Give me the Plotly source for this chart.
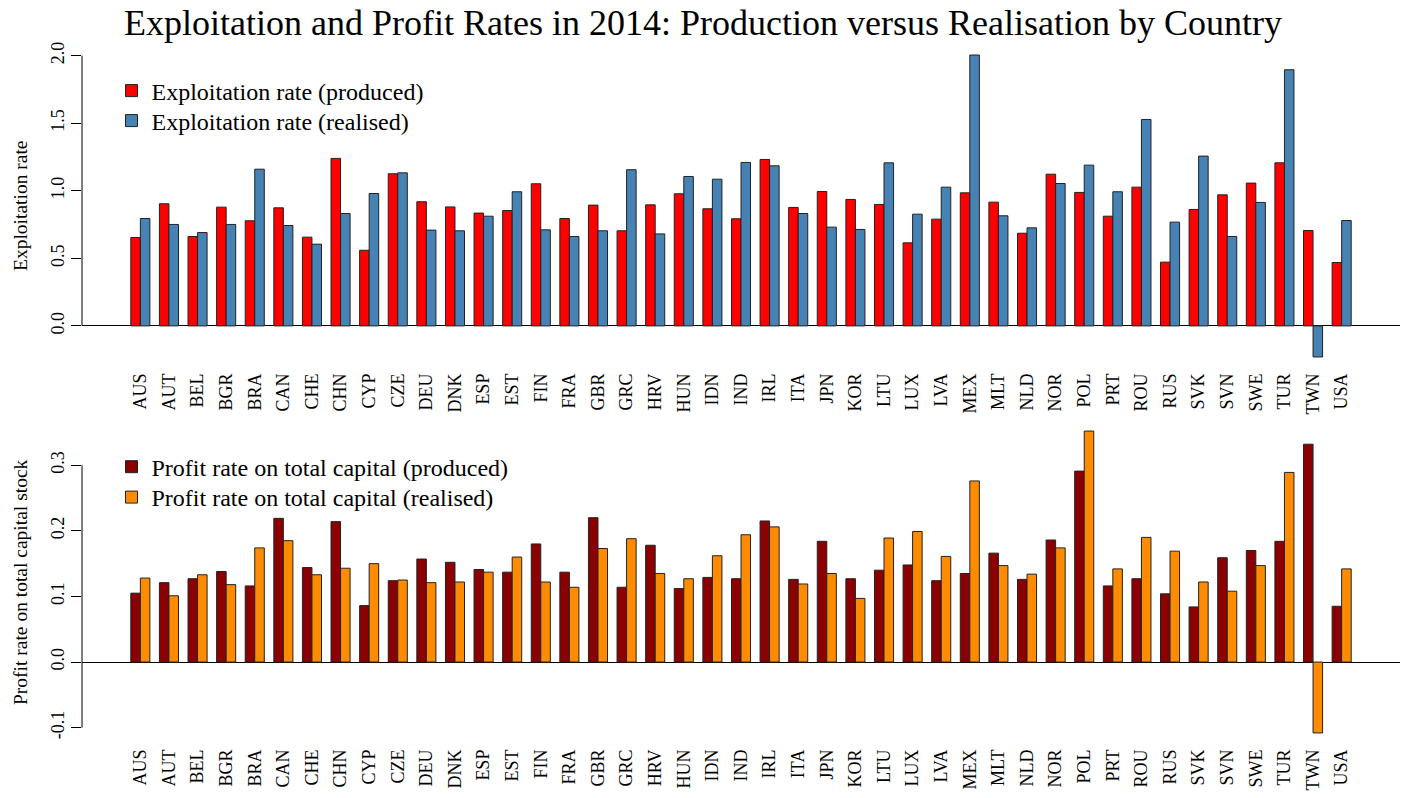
import plotly.graph_objects as go

countries = ["AUS","AUT","BEL","BGR","BRA","CAN","CHE","CHN","CYP","CZE","DEU","DNK","ESP","EST",
             "FIN","FRA","GBR","GRC","HRV","HUN","IDN","IND","IRL","ITA","JPN","KOR","LTU","LUX",
             "LVA","MEX","MLT","NLD","NOR","POL","PRT","ROU","RUS","SVK","SVN","SWE","TUR","TWN","USA"]

expl_produced = [0.654,0.904,0.662,0.879,0.778,0.874,0.657,1.240,0.560,1.126,0.919,0.881,0.835,0.854,
                 1.052,0.795,0.894,0.704,0.896,0.978,0.867,0.793,1.232,0.877,0.995,0.936,0.899,0.615,
                 0.790,0.985,0.916,0.686,1.123,0.988,0.812,1.027,0.472,0.862,0.970,1.057,1.207,0.706,0.469]
expl_realised = [0.795,0.751,0.691,0.751,1.160,0.743,0.605,0.832,0.980,1.133,0.709,0.704,0.812,0.993,
                 0.711,0.662,0.704,1.156,0.681,1.106,1.086,1.210,1.185,0.832,0.731,0.714,1.207,0.827,
                 1.027,2.005,0.815,0.726,1.054,1.190,0.993,1.528,0.768,1.257,0.662,0.914,1.896,-0.230,0.780]
profit_produced = [0.105,0.121,0.127,0.138,0.116,0.219,0.144,0.214,0.086,0.124,0.157,0.152,0.141,0.137,
                   0.180,0.137,0.220,0.114,0.178,0.112,0.129,0.127,0.215,0.126,0.184,0.127,0.140,0.148,
                   0.124,0.135,0.166,0.126,0.186,0.291,0.116,0.127,0.104,0.084,0.159,0.170,0.184,0.332,0.085]
profit_realised = [0.128,0.101,0.133,0.118,0.174,0.185,0.133,0.143,0.150,0.125,0.121,0.122,0.137,0.160,
                   0.122,0.114,0.173,0.188,0.135,0.127,0.162,0.194,0.206,0.119,0.135,0.097,0.189,0.199,
                   0.161,0.276,0.147,0.134,0.174,0.352,0.142,0.190,0.169,0.122,0.108,0.147,0.289,-0.108,0.142]

top_ticks = [0.0, 0.5, 1.0, 1.5, 2.0]
top_ticktext = ["0.0", "0.5", "1.0", "1.5", "2.0"]
bot_ticks = [-0.1, 0.0, 0.1, 0.2, 0.3]
bot_ticktext = ["-0.1", "0.0", "0.1", "0.2", "0.3"]

W, H = 1408, 798
FONT = "Liberation Serif"
EDGE = dict(color="#222222", width=1)

def px_x(p):
    return p / W

def px_y(p):
    return 1 - p / H

fig = go.Figure()
fig.add_trace(go.Bar(x=countries, y=expl_produced, name="Exploitation rate (produced)",
                     marker=dict(color="#FF0000", line=EDGE), xaxis="x", yaxis="y", legend="legend"))
fig.add_trace(go.Bar(x=countries, y=expl_realised, name="Exploitation rate (realised)",
                     marker=dict(color="#4682B4", line=EDGE), xaxis="x", yaxis="y", legend="legend2"))
fig.add_trace(go.Bar(x=countries, y=profit_produced, name="Profit rate on total capital (produced)",
                     marker=dict(color="#8B0000", line=EDGE), xaxis="x2", yaxis="y2", legend="legend3"))
fig.add_trace(go.Bar(x=countries, y=profit_realised, name="Profit rate on total capital (realised)",
                     marker=dict(color="#FF8C00", line=EDGE), xaxis="x2", yaxis="y2", legend="legend4"))

xdom = [px_x(82), px_x(1400)]
top_dom = [px_y(369), px_y(43)]
bot_dom = [px_y(745), px_y(419)]
xrange = [-2.04, 44.04]

xcommon = dict(type="category", range=xrange, domain=xdom, tickangle=-90, showgrid=False,
               zeroline=False, showline=False, ticks="", tickfont=dict(family=FONT, size=18, color="black"),
               fixedrange=True)
ycommon = dict(showgrid=False, showline=False, ticks="outside", ticklen=10, tickwidth=1, tickcolor="black",
               tickangle=-90, zeroline=True, zerolinecolor="black", zerolinewidth=1,
               tickfont=dict(family=FONT, size=18, color="black"), fixedrange=True)

def leg(top_px):
    return dict(x=px_x(111.5), y=px_y(top_px), xanchor="left", yanchor="top", bgcolor="rgba(0,0,0,0)",
                font=dict(family=FONT, size=24, color="black"), tracegroupgap=0)

fig.update_layout(
    width=W, height=H,
    margin=dict(l=0, r=0, t=0, b=0),
    paper_bgcolor="white", plot_bgcolor="white",
    barmode="group", bargap=1/3, bargroupgap=0,
    font=dict(family=FONT, color="black"),
    title=dict(text="Exploitation and Profit Rates in 2014: Production versus Realisation by Country",
               x=px_x(703), xanchor="center", y=px_y(22), yanchor="middle",
               font=dict(family=FONT, size=36, color="black")),
    xaxis=dict(xcommon, anchor="y"),
    xaxis2=dict(xcommon, anchor="y2"),
    yaxis=dict(ycommon, domain=top_dom, range=[-0.319, 2.094], tickvals=top_ticks, ticktext=top_ticktext,
               anchor="x"),
    yaxis2=dict(ycommon, domain=bot_dom, range=[-0.1264, 0.3704], tickvals=bot_ticks, ticktext=bot_ticktext,
                anchor="x2"),
    legend=leg(68.5),
    legend2=leg(98.5),
    legend3=leg(444.6),
    legend4=leg(475),
    showlegend=True,
    shapes=[
        dict(type="line", xref="paper", yref="y", x0=px_x(82), x1=px_x(82), y0=0, y1=2.0,
             line=dict(color="black", width=1)),
        dict(type="line", xref="paper", yref="y2", x0=px_x(82), x1=px_x(82), y0=-0.1, y1=0.3,
             line=dict(color="black", width=1)),
    ],
    annotations=[
        dict(text="Exploitation rate", xref="paper", yref="paper", x=px_x(20), y=px_y(206),
             textangle=-90, showarrow=False, xanchor="center", yanchor="middle",
             font=dict(family=FONT, size=19.5, color="black")),
        dict(text="Profit rate on total capital stock", xref="paper", yref="paper", x=px_x(20), y=px_y(582),
             textangle=-90, showarrow=False, xanchor="center", yanchor="middle",
             font=dict(family=FONT, size=19.5, color="black")),
    ],
)

fig.write_html("out.html", config={"displayModeBar": False},
               post_script="document.body.style.margin='0';")
